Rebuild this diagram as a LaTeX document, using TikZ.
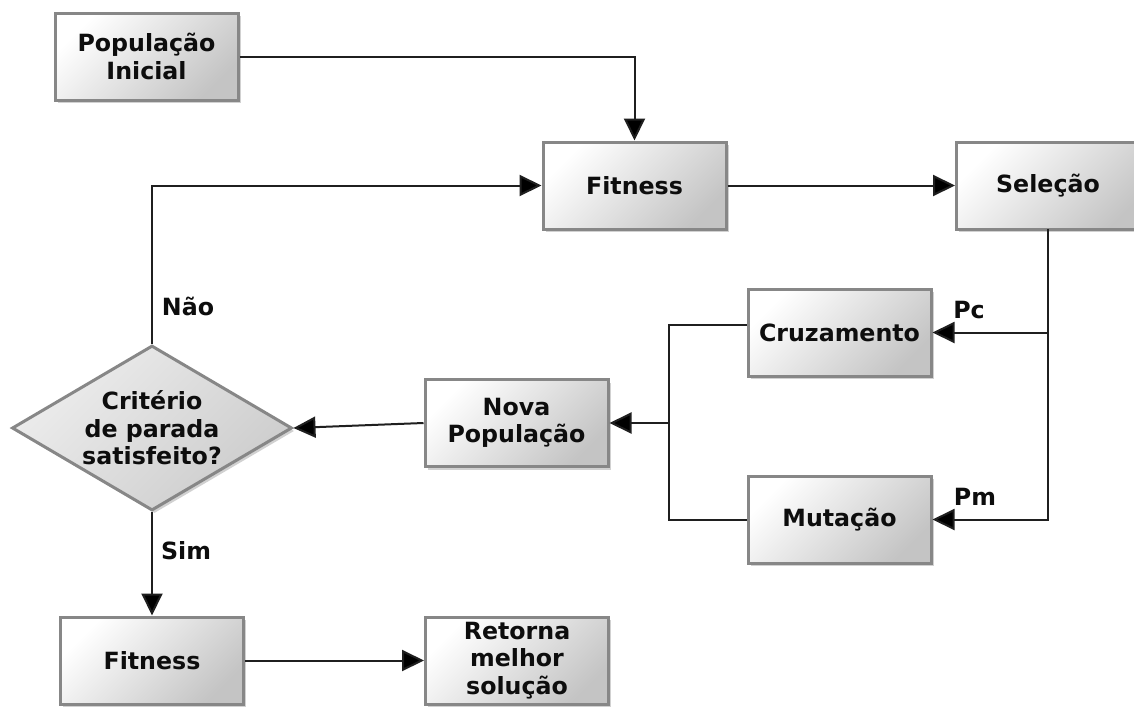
\documentclass[tikz,border=0pt]{standalone}
\usepackage{fontspec}
\setmainfont{DejaVu Sans}
\usetikzlibrary{arrows.meta,shapes.geometric,shadows}
\begin{document}
\begin{tikzpicture}[x=1pt,y=-1pt,
  every node/.style={font=\fontsize{23.7}{27.5}\selectfont\bfseries, text=black!95},
  box/.style={rectangle, draw=black!47, line width=3pt, minimum width=183pt, minimum height=87pt,
    inner sep=0pt, align=center, top color=white, bottom color=black!23, shading angle=45,
    drop shadow={shadow xshift=2.5pt, shadow yshift=-3pt, fill=black, opacity=0.18}},
  dbox/.style={diamond, draw=black!47, line width=3pt, minimum width=280pt, minimum height=165pt,
    aspect=1.7, inner sep=0pt, align=center, top color=white!93!black, bottom color=black!20, shading angle=45,
    drop shadow={shadow xshift=2.5pt, shadow yshift=-3pt, fill=black, opacity=0.18}},
  conn/.style={draw=black!88, line width=2pt},
  arr/.style={conn, -{Triangle[length=22pt,width=21pt,fill=black]}},
  lbl/.style={inner sep=0pt}]
\clip (0,0) rectangle (1134,707);
\fill[white] (0,0) rectangle (1134,707);
\node[box] (pop) at (146.5,56.5) {População\\Inicial};
\node[box] (fit1) at (634.5,185.5) {Fitness};
\node[box, minimum width=192pt, text width=183pt] (sel) at (1052.5,185.5) {\hspace*{-9pt}Seleção};
\node[box] (cru) at (839.5,332.5) {Cruzamento};
\node[box] (mut) at (839.5,519.5) {Mutação};
\node[box] (nova) at (516.5,423) {Nova\\População};
\node[dbox] (dia) at (152,428) {Critério\\de parada\\satisfeito?};
\node[box] (fit2) at (152,660.5) {Fitness};
\node[box] (ret) at (517,660.5) {Retorna\\melhor\\solução};
\coordinate (j) at (669,423);
\coordinate (cruout) at ([yshift=8pt]cru.west);
\coordinate (selout) at (1048,229);
\draw[arr] (pop.east) -| (fit1.north);
\draw[arr] (fit1.east) -- (sel.west);
\draw[arr] (selout) |- (mut.east);
\draw[arr] (selout |- cru.east) -- (cru.east);
\draw[conn] (cruout) -| (j) |- (mut.west);
\draw[arr] (j) -- (nova.east);
\draw[arr] (nova.west) -- (dia.east);
\draw[arr] (dia.north) |- (fit1.west);
\draw[arr] (dia.south) -- (fit2.north);
\draw[arr] (fit2.east) -- (ret.west);
\node[lbl] (nao) at (188,306) {Não};
\node[lbl] (sim) at (186,551) {Sim};
\node[lbl] (pc) at (969,310) {Pc};
\node[lbl] (pm) at (975,497) {Pm};
\end{tikzpicture}
\end{document}
